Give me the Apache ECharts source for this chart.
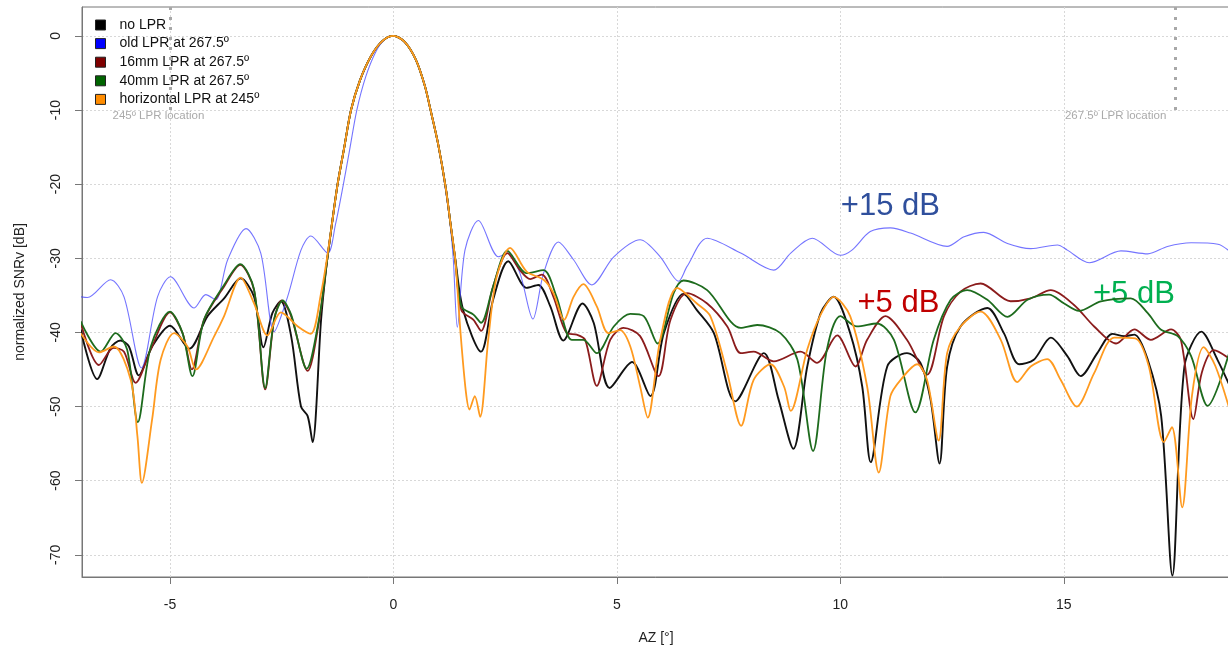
<!DOCTYPE html>
<html>
<head>
<meta charset="utf-8">
<script src="https://cdn.jsdelivr.net/npm/echarts@6/dist/echarts.min.js"></script>
<style>
  html, body { margin: 0; padding: 0; background: #fff; }
  #chart { width: 1228px; height: 648px; }
</style>
</head>
<body>
<div id="chart"></div>
<script>
// axis ticks
const xTicks = [-5, 0, 5, 10, 15];
const yTicks = [-70, -60, -50, -40, -30, -20, -10, 0];

// series names
const seriesNames = ['no LPR', 'old LPR at 267.5º', '16mm LPR at 267.5º', '40mm LPR at 267.5º', 'horizontal LPR at 245º'];

// [AZ deg, normalized SNRv dB]
const noLpr = [
  [-7.0,-39.6],[-6.63,-46.3],[-6.33,-42.1],[-6.11,-41.1],[-5.92,-41.9],[-5.70,-45.8],[-5.40,-41.9],[-5.0,-39.1],
  [-4.57,-42.2],[-4.16,-37.8],[-3.79,-35.4],[-3.42,-32.7],[-3.12,-35.2],[-2.91,-42.0],[-2.71,-37.4],[-2.52,-35.8],
  [-2.29,-40.5],[-2.07,-50.0],[-1.92,-51.3],[-1.81,-54.8],[-1.62,-38.3],[-1.5,-31],
  [-1.38,-25.5],[-1.25,-20],[-1.1,-15],[-0.95,-10],[-0.75,-6],[-0.5,-2.7],[-0.25,-0.7],[0,0],
  [0.25,-0.8],[0.5,-3.2],[0.7,-6.7],[0.83,-10],[1.0,-14.6],[1.17,-20.5],[1.28,-25.5],[1.38,-30],
  [1.56,-37.0],[1.96,-42.6],[2.23,-35.6],[2.57,-30.4],[2.98,-34.0],[3.24,-33.6],[3.51,-36.5],[3.80,-41.1],
  [4.23,-36.1],[4.48,-38.7],[4.84,-47.5],[5.34,-44.0],[5.75,-48.6],[6.05,-40.1],[6.49,-34.8],[6.79,-37.0],
  [7.17,-40.1],[7.65,-49.3],[8.29,-42.8],[8.62,-49.1],[8.95,-55.7],[9.26,-44.6],[9.56,-37.4],[9.85,-35.2],
  [10.22,-40.1],[10.49,-47.3],[10.68,-57.5],[11.05,-44.6],[11.49,-42.8],[11.79,-44.1],[12.02,-49.1],[12.22,-57.7],
  [12.39,-44.6],[12.69,-39.2],[13.29,-36.7],[13.66,-40.1],[14.0,-44.3],[14.33,-43.7],[14.71,-40.7],[15.08,-43.2],
  [15.38,-45.9],[15.75,-42.8],[16.09,-40.2],[16.35,-40.5],[16.58,-40.3],[16.88,-43.7],[17.18,-51.3],[17.43,-72.8],
  [17.70,-44.6],[18.08,-39.9],[18.44,-43.7],[18.72,-47.3]
];

const oldLpr = [
  [-7.0,-35.2],[-6.85,-35.3],[-6.33,-32.9],[-6.03,-35.2],[-5.64,-44.8],[-5.28,-35.2],[-4.99,-32.5],[-4.46,-36.7],
  [-4.2,-34.9],[-3.98,-35.6],[-3.71,-30.2],[-3.30,-26.0],[-2.97,-29.3],[-2.67,-39.9],[-2.37,-35.2],[-2.07,-28.9],
  [-1.85,-27.0],[-1.47,-29.3],[-1.3,-25.5],[-1.12,-20],[-0.97,-15],[-0.82,-10],[-0.62,-5.5],[-0.4,-2.2],[-0.2,-0.5],[0,0],
  [0.25,-0.8],[0.5,-3.2],[0.7,-6.7],[0.83,-10],[1.0,-14.6],[1.17,-21],[1.27,-25.5],[1.34,-30.2],[1.43,-39.3],
  [1.6,-28.9],[1.90,-24.9],[2.35,-29.8],[2.57,-29.3],[2.83,-32.0],[3.12,-38.2],[3.36,-32.0],[3.69,-27.8],[4.03,-30.2],
  [4.44,-33.6],[4.93,-29.8],[5.52,-27.5],[5.97,-29.8],[6.38,-33.1],[6.57,-31.1],[7.02,-27.3],[7.77,-29.3],[8.51,-31.6],
  [8.89,-29.3],[9.37,-27.3],[10.0,-29.6],[10.26,-28.9],[10.67,-26.4],[11.12,-25.9],[11.57,-26.6],[12.39,-28.4],
  [12.77,-27.1],[13.21,-26.5],[13.74,-28.0],[14.26,-28.7],[14.86,-28.2],[15.08,-28.9],[15.57,-30.6],[16.28,-29.0],
  [16.88,-29.4],[17.32,-28.4],[17.85,-27.9],[18.45,-28.1],[18.72,-29.1]
];

const lpr16mm = [
  [-7.0,-38.7],[-6.59,-44.4],[-6.26,-42.1],[-6.03,-42.6],[-5.77,-46.8],[-5.43,-42.3],[-5.0,-37.3],[-4.72,-40.1],
  [-4.51,-45.0],[-4.24,-38.3],[-3.79,-33.8],[-3.43,-30.9],[-3.12,-34.3],[-2.87,-47.7],[-2.67,-38.3],[-2.50,-35.7],
  [-2.29,-37.8],[-1.92,-45.2],[-1.66,-38.3],[-1.5,-31],
  [-1.38,-25.5],[-1.25,-20],[-1.1,-15],[-0.95,-10],[-0.75,-6],[-0.5,-2.7],[-0.25,-0.7],[0,0],
  [0.25,-0.8],[0.5,-3.2],[0.7,-6.7],[0.83,-10],[1.0,-14.6],[1.17,-20.5],[1.28,-25.5],[1.38,-30],
  [1.52,-37.0],[1.79,-38.3],[1.96,-39.8],[2.23,-33.8],[2.55,-29.3],[2.83,-31.6],[3.06,-32.8],[3.32,-32.2],[3.58,-35.2],
  [3.88,-40.1],[4.10,-40.3],[4.29,-41.0],[4.55,-47.2],[4.85,-41.0],[5.15,-39.4],[5.52,-40.5],[5.93,-45.9],[6.20,-38.3],
  [6.57,-34.7],[7.02,-36.1],[7.47,-39.2],[7.77,-42.8],[8.06,-42.6],[8.51,-43.9],[9.11,-42.6],[9.48,-44.1],[9.93,-40.4],
  [10.34,-44.6],[10.60,-41.0],[11.01,-37.8],[11.49,-41.0],[11.94,-45.7],[12.32,-37.8],[12.69,-34.5],[13.14,-33.4],
  [13.81,-35.8],[14.26,-35.4],[14.71,-34.3],[15.23,-36.3],[15.68,-39.2],[16.17,-41.5],[16.58,-39.6],[16.95,-41.0],
  [17.40,-39.6],[17.62,-41.0],[17.90,-51.7],[18.09,-45.4],[18.36,-42.4],[18.72,-43.6]
];

const lpr40mm = [
  [-7.0,-38.5],[-6.55,-42.6],[-6.22,-40.1],[-5.96,-42.3],[-5.72,-52.1],[-5.43,-41.9],[-5.0,-37.2],[-4.72,-40.1],
  [-4.50,-45.9],[-4.24,-38.3],[-3.79,-33.6],[-3.43,-30.8],[-3.12,-34.2],[-2.87,-47.5],[-2.67,-38.2],[-2.48,-35.7],
  [-2.29,-37.6],[-1.94,-44.9],[-1.66,-38.0],[-1.5,-31],
  [-1.38,-25.5],[-1.25,-20],[-1.1,-15],[-0.95,-10],[-0.75,-6],[-0.5,-2.7],[-0.25,-0.7],[0,0],
  [0.25,-0.8],[0.5,-3.2],[0.7,-6.7],[0.83,-10],[1.0,-14.6],[1.17,-20.5],[1.28,-25.5],[1.38,-30],
  [1.52,-36.5],[1.79,-37.6],[1.96,-38.7],[2.23,-33.8],[2.55,-29.0],[2.98,-32.0],[3.36,-31.6],[3.65,-35.2],[3.99,-41.0],
  [4.25,-41.0],[4.55,-42.8],[4.93,-39.2],[5.30,-37.5],[5.60,-37.8],[5.91,-41.5],[6.27,-34.7],[6.49,-33.0],[7.02,-34.3],
  [7.77,-39.4],[8.14,-39.0],[8.66,-40.1],[9.04,-43.7],[9.39,-56.0],[9.70,-42.3],[10.0,-37.8],[10.37,-39.2],[10.82,-38.8],
  [11.20,-41.0],[11.68,-50.8],[12.09,-41.0],[12.47,-35.6],[12.84,-34.3],[13.29,-35.6],[13.74,-37.9],[14.19,-35.6],
  [14.67,-34.9],[15.01,-36.1],[15.34,-37.1],[15.83,-35.8],[16.50,-35.4],[16.88,-37.4],[17.17,-39.6],[17.55,-40.5],
  [17.85,-43.2],[18.22,-49.9],[18.72,-42.4]
];

const horizLpr = [
  [-7.0,-40.1],[-6.59,-42.7],[-6.26,-41.9],[-5.88,-46.4],[-5.73,-54.0],[-5.63,-60.3],[-5.40,-51.7],[-5.21,-43.7],
  [-4.91,-40.1],[-4.61,-41.9],[-4.42,-45.0],[-4.01,-40.5],[-3.79,-37.8],[-3.42,-32.6],[-3.12,-36.1],[-2.82,-40.4],
  [-2.52,-37.3],[-2.14,-39.2],[-1.85,-40.2],[-1.62,-34.7],[-1.5,-30.5],
  [-1.38,-25.5],[-1.25,-20],[-1.1,-15],[-0.95,-10],[-0.75,-6],[-0.5,-2.7],[-0.25,-0.7],[0,0],
  [0.25,-0.8],[0.5,-3.2],[0.7,-6.7],[0.83,-10],[1.0,-14.6],[1.17,-20.5],[1.28,-25.5],[1.38,-30],
  [1.5,-40],[1.62,-48],[1.70,-50.4],[1.82,-48.6],[1.94,-51.4],[2.12,-41.0],[2.31,-32.5],[2.61,-28.6],[2.98,-31.8],
  [3.36,-32.9],[3.58,-34.7],[3.82,-38.3],[4.03,-35.2],[4.25,-33.5],[4.55,-36.5],[4.81,-40.1],[5.07,-39.7],[5.30,-41.9],
  [5.52,-47.3],[5.69,-51.5],[5.97,-41.0],[6.35,-34.0],[6.79,-36.1],[7.09,-37.8],[7.47,-45.5],[7.78,-52.6],[8.06,-46.4],
  [8.44,-44.3],[8.74,-47.3],[8.89,-50.6],[9.26,-42.3],[9.56,-37.6],[9.85,-35.2],[10.22,-37.8],[10.60,-47.3],[10.86,-58.9],
  [11.12,-48.6],[11.35,-46.4],[11.72,-44.3],[11.94,-46.4],[12.2,-54.6],[12.39,-42.8],[12.69,-39.2],[13.14,-37.2],
  [13.59,-41.0],[13.96,-46.7],[14.26,-44.6],[14.63,-43.6],[14.93,-46.4],[15.29,-50.0],[15.68,-45.5],[16.13,-40.7],
  [16.6,-40.8],[16.9,-44.5],[17.24,-54.8],[17.42,-52.8],[17.65,-63.6],[17.87,-48.5],[18.13,-42.0],[18.39,-44.5],[18.72,-50.6]
];

// LPR location markers (AZ deg)
const lprLocations = [-5, 17.5];
const lprLabels = ['245º LPR location', '267.5º LPR location'];

// gain annotations
const notes = ['+15 dB', '+5 dB', '+5 dB'];
const noteAt = [[11.12, -23.0], [11.3, -36.1], [16.57, -34.9]];
const noteColors = ['#2f4f9c', '#c00000', '#00b050'];

const legendColors = ['#000000', '#0000ff', '#7f0000', '#006400', '#ff8c00'];
const lineColors = ['#111111', 'rgba(70,70,255,0.75)', '#8b1c1c', '#1d6b1d', '#ff9a1f'];
const lineWidths = [1.9, 1.1, 1.8, 1.8, 1.8];
const seriesData = [noLpr, oldLpr, lpr16mm, lpr40mm, horizLpr];

let option = null;
let myChart = null;

const lineSeries = seriesNames.map(function (name, i) {
    return {
        name: name,
        type: 'line',
        data: seriesData[i],
        showSymbol: false,
        smooth: 0.3,
        silent: true,
        itemStyle: { color: legendColors[i] },
        lineStyle: { color: lineColors[i], width: lineWidths[i] }
    };
});

// vertical dashed lines for LPR locations
lineSeries[0].markLine = {
    silent: true,
    symbol: 'none',
    animation: false,
    label: { show: false },
    lineStyle: { color: '#a8a8a8', type: [3, 7], width: 3 },
    data: lprLocations.map(function (x) {
        return [{ coord: [x, 3.9] }, { coord: [x, -10] }];
    })
};

option = {
    animation: false,
    backgroundColor: '#fff',
    textStyle: { fontFamily: 'Liberation Sans, Arial, sans-serif' },
    grid: {
        left: 82, right: -2, top: 7, bottom: 71,
        outerBoundsMode: 'none',
        show: true, borderColor: '#777', borderWidth: 1
    },
    legend: {
        orient: 'vertical',
        left: 90,
        top: 13,
        icon: 'rect',
        itemWidth: 10,
        itemHeight: 10,
        itemGap: 4.6,
        textStyle: { fontSize: 14, color: '#111', padding: [0, 0, 0, 9] },
        itemStyle: { borderColor: '#222', borderWidth: 1 },
        data: seriesNames.map(function (n, i) {
            return { name: n, itemStyle: { color: legendColors[i] } };
        })
    },
    xAxis: {
        type: 'value',
        min: -6.97,
        max: 18.72,
        name: 'AZ [°]',
        nameLocation: 'middle',
        nameGap: 54,
        nameTextStyle: { fontSize: 14, color: '#222' },
        axisLine: { show: true, onZero: false, lineStyle: { color: '#777' } },
        axisTick: { show: true, length: 7, customValues: xTicks, lineStyle: { color: '#777' } },
        axisLabel: { customValues: xTicks, fontSize: 14, color: '#222', margin: 21 },
        splitLine: { show: true, lineStyle: { color: '#d8d8d8', type: [2, 2] } }
    },
    yAxis: {
        type: 'value',
        min: -73,
        max: 3.9,
        name: 'normalized SNRv [dB]',
        nameLocation: 'middle',
        nameGap: 55,
        nameTextStyle: { fontSize: 14, color: '#222' },
        axisLine: { show: true, onZero: false, lineStyle: { color: '#777' } },
        axisTick: { show: true, length: 7, customValues: yTicks, lineStyle: { color: '#777' } },
        axisLabel: { customValues: yTicks, fontSize: 14, color: '#222', rotate: 90, margin: 19 },
        splitLine: { show: true, lineStyle: { color: '#d8d8d8', type: [2, 2] } }
    },
    series: lineSeries.concat([
        {
            name: 'lpr-labels',
            type: 'scatter',
            silent: true,
            symbolSize: 0,
            itemStyle: { opacity: 1 },
            data: lprLocations.map(function (x, i) {
                return { value: [i === 0 ? x - 0.26 : x - 1.34, -10.8], label: { formatter: lprLabels[i] } };
            }),
            label: { show: true, position: 'inside', fontSize: 11.5, color: '#aaa' }
        },
        {
            name: 'gain-notes',
            type: 'scatter',
            silent: true,
            symbolSize: 0,
            itemStyle: { opacity: 1 },
            data: notes.map(function (t, i) {
                return { value: noteAt[i], label: { formatter: t, color: noteColors[i] } };
            }),
            label: { show: true, position: 'inside', fontSize: 31 }
        }
    ])
};

myChart = echarts.init(document.getElementById('chart'));
myChart && myChart.setOption(option);
</script>
</body>
</html>
